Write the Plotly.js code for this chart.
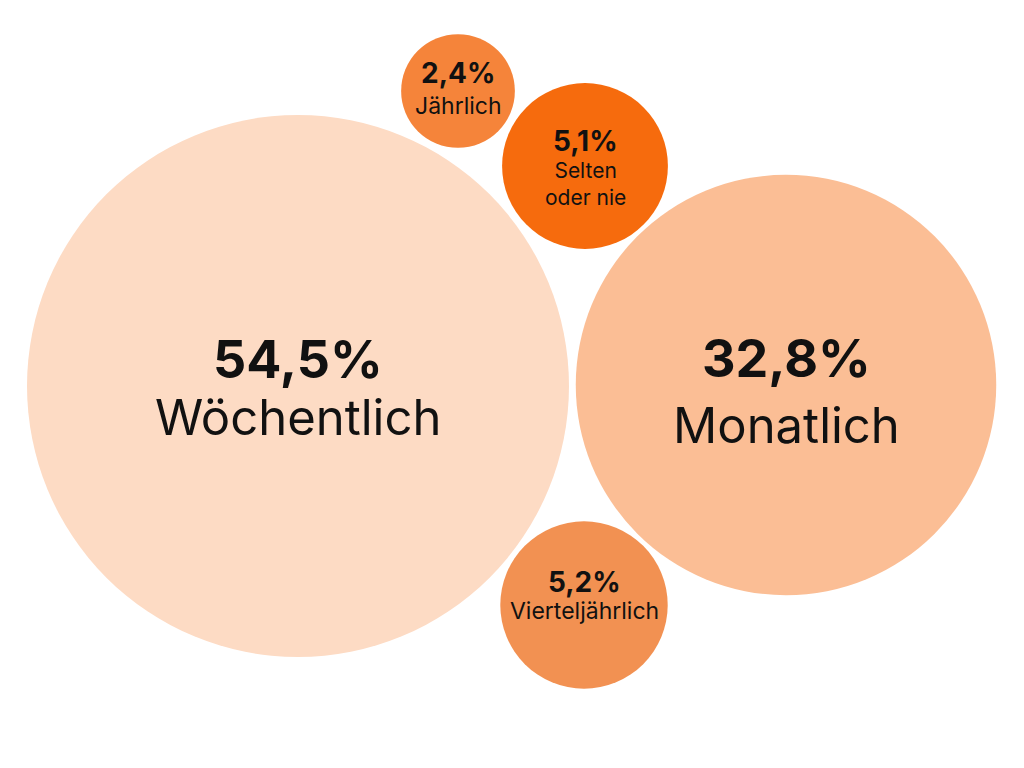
<!DOCTYPE html>
<html>
<head>
<meta charset="utf-8">
<script src="https://cdn.plot.ly/plotly-3.0.1.min.js"></script>
<style>html,body{margin:0;padding:0;background:#fff;}#chart{width:1024px;height:768px;}</style>
</head>
<body>
<div id="chart"></div>
<script>
// Data
const categories = ["Wöchentlich", "Monatlich", "Jährlich", "Selten<br>oder nie", "Vierteljährlich"];
const shares = [54.5, 32.8, 2.4, 5.1, 5.2];
const pctLabels = ["54,5%", "32,8%", "2,4%", "5,1%", "5,2%"];

// Bubble layout (packed positions, in page units)
const xPos = [298, 786, 458, 585, 584];
const yPos = [386, 385, 91, 166, 605];

// Styles
const colors = ["#FDDBC4", "#FBBE95", "#F5843A", "#F66B0D", "#F29152"];
const pctFont = [52, 52, 28, 28, 28];
const labFont = [49, 49, 23, 21, 23];
const pctDy = [-27, -27, -18, -25, -23];
const labDy = [31, 40, 15, 18, 6];
const maxDiameter = 542;

const maxShare = Math.max(...shares);
const sizes = shares.map(v => maxDiameter * Math.sqrt(v / maxShare));

const trace = {
  type: "scatter",
  mode: "markers",
  x: xPos,
  y: yPos,
  hoverinfo: "skip",
  marker: {
    size: sizes,
    sizemode: "diameter",
    color: colors,
    opacity: 1,
    line: { width: 0 }
  }
};

const FONT = "Inter, sans-serif";
const annotations = [];
categories.forEach((c, i) => {
  annotations.push({
    x: xPos[i], y: yPos[i] + pctDy[i], xref: "x", yref: "y",
    text: "<b>" + pctLabels[i] + "</b>", showarrow: false,
    xanchor: "center", yanchor: "middle",
    font: { family: FONT, size: pctFont[i], color: "#111111" }
  });
  annotations.push({
    x: xPos[i], y: yPos[i] + labDy[i], xref: "x", yref: "y",
    text: c, showarrow: false,
    xanchor: "center", yanchor: "middle",
    font: { family: FONT, size: labFont[i], color: "#111111" }
  });
});

const layout = {
  width: 1024, height: 768,
  margin: { l: 0, r: 0, t: 0, b: 0 },
  paper_bgcolor: "#ffffff", plot_bgcolor: "#ffffff",
  showlegend: false,
  xaxis: { range: [0, 1024], visible: false, fixedrange: true },
  yaxis: { range: [768, 0], visible: false, fixedrange: true },
  annotations: annotations
};

Plotly.newPlot("chart", [trace], layout, { displayModeBar: false, staticPlot: true });
</script>
</body>
</html>
